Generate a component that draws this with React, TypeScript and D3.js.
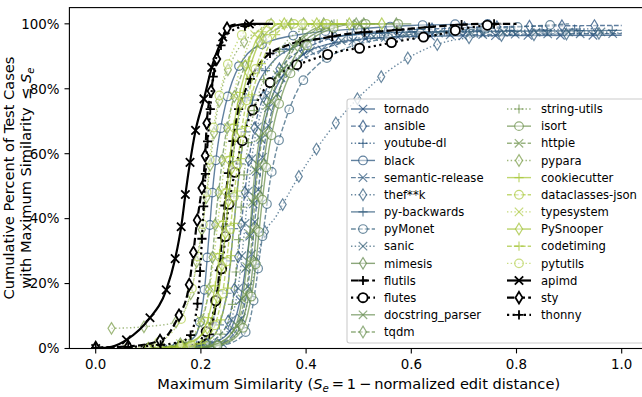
import React, { useEffect, useRef } from "react";
import * as d3 from "d3";

const W = 642;
const H = 397;

const seriesNames = [
  "tornado", "ansible", "youtube-dl", "black", "semantic-release", "thef**k",
  "py-backwards", "pyMonet", "sanic", "mimesis", "flutils", "flutes",
  "docstring_parser", "tqdm", "string-utils", "isort", "httpie", "pypara",
  "cookiecutter", "dataclasses-json", "typesystem", "PySnooper", "codetiming",
  "pytutils", "apimd", "sty", "thonny",
];

// [max similarity, cumulative percent]
const tornado = [[0.14,0],[0.2,1],[0.24,3],[0.26,7],[0.275,15],[0.285,25],[0.293,35],[0.3,45],[0.306,55],[0.315,65],[0.33,75],[0.355,84],[0.39,90],[0.45,94],[0.55,95.8],[0.7,96.3],[1.0,96.5]];
const ansible = [[0.15,0],[0.2,1],[0.235,4],[0.255,10],[0.265,20],[0.272,30],[0.278,40],[0.285,50],[0.293,60],[0.305,70],[0.325,80],[0.36,88],[0.42,94],[0.5,97],[0.65,98.5],[0.8,99.2],[1.0,99.5]];
const youtubeDl = [[0.12,0],[0.18,1],[0.21,4],[0.225,10],[0.235,20],[0.242,30],[0.248,40],[0.255,50],[0.262,60],[0.272,70],[0.29,80],[0.32,88],[0.37,93],[0.45,96],[0.6,97.5],[0.8,98],[0.95,98.5]];
const blackFmt = [[0.1,0],[0.16,1],[0.19,4],[0.2,10],[0.208,20],[0.213,30],[0.218,40],[0.223,50],[0.23,60],[0.24,70],[0.255,80],[0.28,89],[0.32,94],[0.4,97],[0.5,98.5],[0.6,99.5],[0.75,100]];
const semanticRelease = [[0.18,0],[0.23,1],[0.26,4],[0.278,10],[0.29,20],[0.297,30],[0.303,40],[0.31,50],[0.318,60],[0.33,70],[0.35,80],[0.38,87],[0.43,92],[0.5,95],[0.65,96.5],[1.0,97]];
const thefk = [[0.17,0],[0.24,1],[0.27,5],[0.29,15],[0.3,22],[0.315,33],[0.344,41],[0.375,50],[0.404,57.6],[0.439,65.8],[0.475,73],[0.515,79.7],[0.559,85.8],[0.611,91],[0.667,94.5],[0.75,96.2],[0.88,96.8],[1.0,97.2]];
const pyBackwards = [[0.13,0],[0.19,1],[0.225,4],[0.24,10],[0.252,20],[0.258,30],[0.264,40],[0.27,50],[0.277,60],[0.288,70],[0.305,80],[0.335,88],[0.38,93],[0.45,96],[0.6,97.5],[1.0,98]];
const pyMonet = [[0.17,0],[0.24,1],[0.28,4],[0.295,10],[0.305,20],[0.313,30],[0.322,40],[0.33,50],[0.342,60],[0.36,70],[0.385,80],[0.42,87],[0.47,92],[0.55,95.5],[0.65,97.5],[0.8,99],[0.9,100]];
const sanic = [[0.16,0],[0.21,1],[0.245,4],[0.26,10],[0.272,20],[0.279,30],[0.285,40],[0.291,50],[0.298,60],[0.31,70],[0.33,80],[0.37,88],[0.43,93],[0.52,96],[0.7,97.3],[0.98,97.5]];
const mimesis = [[0.17,0],[0.23,1],[0.265,4],[0.282,10],[0.295,20],[0.302,30],[0.308,40],[0.315,50],[0.322,60],[0.333,70],[0.35,80],[0.375,89],[0.4,95],[0.43,98],[0.48,100],[0.6,100]];
const flutils = [[0.1,0],[0.18,1],[0.21,3],[0.225,10],[0.233,20],[0.238,30],[0.243,40],[0.25,51],[0.258,60.6],[0.268,71],[0.287,80.5],[0.315,88.4],[0.366,93.5],[0.432,95.6],[0.493,97.2],[0.55,97.8],[0.612,98.7],[0.673,99.5],[0.74,100],[0.8,100]];
const flutes = [[0.1,0],[0.137,0.5],[0.19,1],[0.205,4],[0.22,8.8],[0.233,19],[0.243,28.8],[0.249,39],[0.258,48.8],[0.271,59],[0.287,68.6],[0.312,77.6],[0.352,84.8],[0.406,88.7],[0.463,91.5],[0.524,93],[0.587,95],[0.648,96.6],[0.705,98.7],[0.771,100]];
const docstringParser = [[0.15,0],[0.22,1],[0.255,4],[0.272,10],[0.283,20],[0.29,30],[0.295,40],[0.3,50],[0.307,60],[0.318,70],[0.335,80],[0.36,89],[0.385,95],[0.41,98],[0.45,100],[0.52,100]];
const tqdm = [[0.1,0],[0.15,1],[0.18,3],[0.2,8],[0.215,18],[0.222,28],[0.228,40],[0.235,50],[0.242,60],[0.252,70],[0.268,80],[0.29,89],[0.315,95],[0.34,98],[0.38,100],[0.5,100]];
const stringUtils = [[0.12,0],[0.19,1],[0.235,4],[0.255,10],[0.265,20],[0.27,30],[0.275,40],[0.28,50],[0.287,60],[0.297,70],[0.313,80],[0.34,89],[0.365,95],[0.39,98],[0.42,100],[0.47,100]];
const isort = [[0.17,0],[0.235,1],[0.27,4],[0.288,10],[0.3,20],[0.307,30],[0.313,40],[0.32,50],[0.328,60],[0.34,70],[0.358,80],[0.385,89],[0.41,95],[0.44,98],[0.5,100],[0.58,100]];
const httpie = [[0.16,0],[0.22,1],[0.255,4],[0.275,10],[0.288,20],[0.295,30],[0.3,40],[0.305,50],[0.312,60],[0.323,70],[0.34,80],[0.365,89],[0.39,95],[0.42,98],[0.47,100],[0.55,100]];
const pypara = [[0.03,6.2],[0.1,6.8],[0.15,8],[0.17,12],[0.185,20],[0.195,30],[0.205,40],[0.213,50],[0.22,60],[0.228,70],[0.24,80],[0.26,89],[0.285,95],[0.31,98],[0.34,100],[0.45,100]];
const cookiecutter = [[0.12,0],[0.17,1],[0.2,4],[0.215,10],[0.228,20],[0.236,30],[0.243,40],[0.25,50],[0.256,60],[0.264,70],[0.276,80],[0.292,89],[0.305,95],[0.318,98],[0.33,100],[0.45,100]];
const dataclassesJson = [[0.12,0],[0.18,1],[0.215,4],[0.232,10],[0.244,20],[0.251,30],[0.258,40],[0.265,50],[0.272,60],[0.28,70],[0.293,80],[0.31,89],[0.325,95],[0.34,98],[0.36,100],[0.5,100]];
const typesystem = [[0.1,0],[0.15,1],[0.185,4],[0.203,10],[0.218,20],[0.226,30],[0.233,40],[0.24,50],[0.246,60],[0.254,70],[0.265,80],[0.28,89],[0.295,95],[0.31,98],[0.33,100],[0.42,100]];
const pySnooper = [[0.1,0],[0.16,1],[0.2,4],[0.222,10],[0.236,20],[0.243,30],[0.249,40],[0.255,50],[0.262,60],[0.27,70],[0.282,80],[0.298,89],[0.313,95],[0.33,98],[0.35,100],[0.55,100]];
const codetiming = [[0.14,0],[0.19,1],[0.225,4],[0.24,10],[0.252,20],[0.258,30],[0.264,40],[0.27,50],[0.277,60],[0.286,70],[0.3,80],[0.318,89],[0.335,95],[0.35,98],[0.38,100],[0.48,100]];
const pytutils = [[0.06,0],[0.12,2],[0.15,6],[0.165,10],[0.185,20],[0.196,30],[0.205,40],[0.212,50],[0.218,60],[0.226,70],[0.238,80],[0.252,88],[0.268,94],[0.285,98],[0.31,100],[0.4,100]];
const apimd = [[0,0],[0.03,0.5],[0.06,2.8],[0.1,8.8],[0.134,18],[0.151,27.6],[0.163,38],[0.171,48],[0.179,57],[0.189,66.5],[0.206,77],[0.222,87.4],[0.237,94],[0.249,98.4],[0.265,99.5],[0.29,100],[0.337,100]];
const sty = [[0,0.3],[0.06,0.6],[0.125,2.6],[0.157,9.8],[0.176,18],[0.185,28.5],[0.192,38.3],[0.201,48.5],[0.208,59],[0.211,69],[0.219,79],[0.23,89],[0.24,95],[0.252,99],[0.27,100]];
const thonny = [[0,0.2],[0.1,0.8],[0.16,2],[0.18,4],[0.19,10],[0.196,18],[0.2,28],[0.204,40],[0.208,52],[0.212,62],[0.217,72],[0.221,80],[0.226,87],[0.24,94],[0.26,98],[0.29,99.5],[0.32,100]];

const seriesData = [
  tornado, ansible, youtubeDl, blackFmt, semanticRelease, thefk, pyBackwards,
  pyMonet, sanic, mimesis, flutils, flutes, docstringParser, tqdm, stringUtils,
  isort, httpie, pypara, cookiecutter, dataclassesJson, typesystem, pySnooper,
  codetiming, pytutils, apimd, sty, thonny,
];

const xTicks = [0, 0.2, 0.4, 0.6, 0.8, 1.0];
const yTicks = [0, 20, 40, 60, 80, 100];

// styles
const seriesColors = [
  "#1f4a78", "#1f4a78", "#24507a", "#24507a", "#2a557a", "#2f5a7c",
  "#2f5a7c", "#355f7c", "#3a647c", "#5f8548", "#000000", "#000000",
  "#678d50", "#6a9050", "#6f944c", "#6a8f48", "#729650", "#7a9c48",
  "#a8c838", "#acca40", "#b0cc48", "#a0c030", "#a8c63c", "#b4d050",
  "#000000", "#000000", "#000000",
];
const markerCycle = ["x", "d", "+", "o"];
const dashCycle = ["solid", "dashed", "dotted"];

const FONT = "'DejaVu Sans', sans-serif";
const TICK_FS = 13.4;
const LABEL_FS = 14.6;
const LEGEND_FS = 11.6;

export default function App() {
  const ref = useRef<SVGSVGElement>(null);

  useEffect(() => {
    const svg = d3.select(ref.current);
    svg.selectAll("*").remove();

    const left = 69.4, right = 648, top = 7.6, bottom = 348.5;
    const x = d3.scaleLinear().domain([-0.05, 1.05]).range([left, right]);
    const y = d3.scaleLinear().domain([0, 105]).range([bottom, top]);

    svg.append("rect").attr("width", W).attr("height", H).attr("fill", "white");

    const defs = svg.append("defs");
    defs.append("clipPath").attr("id", "plotclip")
      .append("rect").attr("x", left).attr("y", top)
      .attr("width", right - left).attr("height", bottom - top);

    const plot = svg.append("g").attr("clip-path", "url(#plotclip)");

    const isBlack = (i: number) => seriesColors[i] === "#000000";

    const styleFor = (i: number) => {
      const black = isBlack(i);
      const lw = black ? 2.2 : 1.4;
      const ls = dashCycle[i % 3];
      let dash = "none";
      if (ls === "dashed") dash = black ? "7.4,3.2" : "4.8,2.1";
      if (ls === "dotted") dash = black ? "2.2,3.4" : "1.4,2.3";
      return {
        color: seriesColors[i],
        lw,
        dash,
        opacity: black ? 1 : 0.72,
        marker: markerCycle[i % 4],
        black,
      };
    };

    const drawMarker = (g: any, type: string, cx: number, cy: number, st: any) => {
      const sw = st.black ? 1.8 : 1.2;
      const fill = "white";
      const fillOp = st.black ? 1 : 0.45;
      if (type === "o") {
        g.append("circle").attr("cx", cx).attr("cy", cy).attr("r", st.black ? 4.6 : 4.3)
          .attr("fill", fill).attr("fill-opacity", fillOp)
          .attr("stroke", st.color).attr("stroke-opacity", st.opacity).attr("stroke-width", sw);
      } else if (type === "d") {
        const hh = 5.8, hw = 3.5;
        g.append("path")
          .attr("d", `M${cx},${cy - hh}L${cx + hw},${cy}L${cx},${cy + hh}L${cx - hw},${cy}Z`)
          .attr("fill", fill).attr("fill-opacity", fillOp)
          .attr("stroke", st.color).attr("stroke-opacity", st.opacity).attr("stroke-width", sw);
      } else if (type === "x") {
        const r = 4.2;
        g.append("path")
          .attr("d", `M${cx - r},${cy - r}L${cx + r},${cy + r}M${cx - r},${cy + r}L${cx + r},${cy - r}`)
          .attr("fill", "none")
          .attr("stroke", st.color).attr("stroke-opacity", st.opacity).attr("stroke-width", sw);
      } else {
        const r = 4.6;
        g.append("path")
          .attr("d", `M${cx - r},${cy}L${cx + r},${cy}M${cx},${cy - r}L${cx},${cy + r}`)
          .attr("fill", "none")
          .attr("stroke", st.color).attr("stroke-opacity", st.opacity).attr("stroke-width", sw);
      }
    };

    const line = d3.line<number[]>()
      .x((d) => x(d[0]))
      .y((d) => y(d[1]))
      .curve(d3.curveMonotoneX);

    const MARK_STEP = 32.5;

    seriesData.forEach((data, i) => {
      const st = styleFor(i);
      const g = plot.append("g");
      const p = g.append("path")
        .attr("d", line(data as number[][]) || "")
        .attr("fill", "none")
        .attr("stroke", st.color)
        .attr("stroke-opacity", st.opacity)
        .attr("stroke-width", st.lw)
        .attr("stroke-dasharray", st.dash)
        .attr("stroke-linejoin", "round");
      const node = p.node() as SVGPathElement;
      const L = node.getTotalLength();
      for (let d = 0; d <= L + 0.01; d += MARK_STEP) {
        const pt = node.getPointAtLength(Math.min(d, L));
        drawMarker(g, st.marker, pt.x, pt.y, st);
      }
    });

    // axes frame
    const axes = svg.append("g");
    axes.append("rect")
      .attr("x", left).attr("y", top).attr("width", right - left).attr("height", bottom - top)
      .attr("fill", "none").attr("stroke", "black").attr("stroke-width", 1.1);

    xTicks.forEach((t) => {
      axes.append("line").attr("x1", x(t)).attr("x2", x(t)).attr("y1", bottom).attr("y2", bottom + 4.9)
        .attr("stroke", "black").attr("stroke-width", 1.1);
      axes.append("text").attr("x", x(t)).attr("y", 369)
        .attr("text-anchor", "middle").attr("font-family", FONT).attr("font-size", TICK_FS)
        .text(d3.format(".1f")(t));
    });
    yTicks.forEach((t) => {
      axes.append("line").attr("x1", left - 4.9).attr("x2", left).attr("y1", y(t)).attr("y2", y(t))
        .attr("stroke", "black").attr("stroke-width", 1.1);
      axes.append("text").attr("x", left - 9.8).attr("y", y(t)).attr("dy", "0.36em")
        .attr("text-anchor", "end").attr("font-family", FONT).attr("font-size", TICK_FS)
        .text(`${t}%`);
    });

    // x label
    const xl = axes.append("text").attr("x", (left + right) / 2).attr("y", 389)
      .attr("text-anchor", "middle").attr("font-family", FONT).attr("font-size", LABEL_FS);
    xl.append("tspan").text("Maximum Similarity (");
    xl.append("tspan").attr("font-style", "italic").text("S");
    xl.append("tspan").attr("font-size", LABEL_FS * 0.7).attr("dy", 3).attr("font-style", "italic").text("e");
    xl.append("tspan").attr("dy", -3).text("\u2009=\u20091\u2009\u2212\u2009normalized edit distance)");

    // y label (two lines)
    const cy = (top + bottom) / 2;
    axes.append("text")
      .attr("transform", `translate(13.5,${cy}) rotate(-90)`)
      .attr("text-anchor", "middle").attr("font-family", FONT).attr("font-size", LABEL_FS)
      .text("Cumulative Percent of Test Cases");
    const yl2 = axes.append("text")
      .attr("transform", `translate(30.5,${cy}) rotate(-90)`)
      .attr("text-anchor", "middle").attr("font-family", FONT).attr("font-size", LABEL_FS);
    yl2.append("tspan").text("with Maximum Similarity \u2009\u2264 ");
    yl2.append("tspan").attr("font-style", "italic").text("S");
    yl2.append("tspan").attr("font-size", LABEL_FS * 0.7).attr("dy", 3).attr("font-style", "italic").text("e");

    // legend
    const lg = svg.append("g");
    const lx = 347, ly = 99, lw = 300, lh = 244;
    lg.append("rect").attr("x", lx).attr("y", ly).attr("width", lw).attr("height", lh)
      .attr("rx", 2.5).attr("fill", "white").attr("fill-opacity", 0.8)
      .attr("stroke", "#cccccc").attr("stroke-width", 1.1);
    const rowH = 17.15;
    const col1N = 14;
    seriesNames.forEach((name, i) => {
      const col = i < col1N ? 0 : 1;
      const row = col === 0 ? i : i - col1N;
      const hx0 = col === 0 ? 351 : 507;
      const hx1 = hx0 + 24;
      const tx = col === 0 ? 384 : 541;
      const ry = 109 + row * rowH;
      const st = styleFor(i);
      lg.append("line").attr("x1", hx0).attr("x2", hx1).attr("y1", ry).attr("y2", ry)
        .attr("stroke", st.color).attr("stroke-opacity", st.opacity)
        .attr("stroke-width", st.lw).attr("stroke-dasharray", st.dash);
      drawMarker(lg, st.marker, (hx0 + hx1) / 2, ry, st);
      lg.append("text").attr("x", tx).attr("y", ry).attr("dy", "0.36em")
        .attr("font-family", FONT).attr("font-size", LEGEND_FS).attr("fill", "black")
        .text(name);
    });
  }, []);

  return (
    <svg
      ref={ref}
      width={W}
      height={H}
      style={{ position: "absolute", left: 0, top: 0, display: "block" }}
    />
  );
}
